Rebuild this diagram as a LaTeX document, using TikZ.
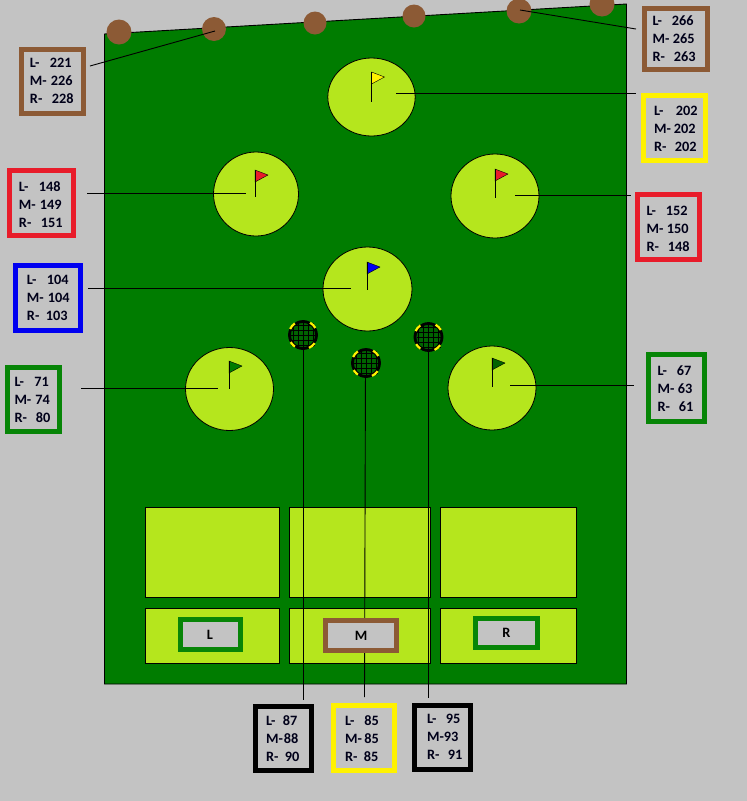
\documentclass[tikz,border=0pt]{standalone}
\usepackage{fontspec}
\setmainfont{Carlito}
\usetikzlibrary{calc,shapes.geometric}
\definecolor{bgray}{HTML}{C3C3C3}
\definecolor{field}{HTML}{007C00}
\definecolor{lime}{HTML}{B5E61D}
\definecolor{soil}{HTML}{8C5A35}
\definecolor{cred}{HTML}{E81C2A}
\definecolor{cyel}{HTML}{FFF200}
\definecolor{cblue}{HTML}{0000F0}
\definecolor{cgreen}{HTML}{078507}
\tikzset{
  cardbox/.style={draw=#1,fill=bgray,line width=5pt,inner sep=0pt,outer sep=0pt},
  cardtext/.style={anchor=west,inner sep=0pt,outer sep=0pt,align=left,font=\fontsize{14.3}{18}\selectfont\bfseries,text=black!90!blue},
  green disc/.style={draw=black,fill=lime,line width=0.8pt},
  pad/.style={draw=black,fill=lime,line width=0.8pt},
  tree/.style={fill=soil},
  pole/.style={draw=black,line width=0.8pt},
  flag/.style={draw=black,line width=0.4pt,fill=#1},
  leader/.style={draw=black,line width=0.9pt},
}
\newcommand{\cardat}[8]{% name,x0,y0,x1,y1,colour,textx,texty
  \node[cardbox=#6,minimum width={#4-#2-5},minimum height={#5-#3-5}] (#1) at ({(#2+#4)/2},{(#3+#5)/2}) {};
  \node[cardtext] (#1t) at (#7,#8) }
\newcommand{\rw}[3]{\makebox[#2pt][l]{#1}#3}
\newcommand{\hole}[9]{% name cx cy rx ry polex topy boty colour
  \node[green disc,ellipse,minimum width={2*#4},minimum height={2*#5},inner sep=0pt] (#1) at (#2,#3) {};
  \coordinate (#1a) at (#6,#7); \coordinate (#1b) at (#6,#8);
  \draw[flag=#9] (#6,#7) -- ++(13,5) -- (#6,#7+12) -- cycle;
  \draw[pole] (#1a) -- (#1b);}
\newcommand{\netat}[3]{% name cx cy
  \begin{scope}[shift={(#2,#3)}]
    \fill[field!80!black] (0,0) circle (14);
    \foreach \g in {-10,-5,0,5,10} {
      \draw[black,line width=0.7pt] (\g,-12) -- (\g,12);
      \draw[black,line width=0.7pt] (-12,\g) -- (12,\g);
    }
    \draw[black,line width=2.8pt] (0,0) circle (13.5);
    \draw[cyel,line width=2.2pt] (35:14.2) arc (35:65:14.2);
    \draw[cyel,line width=2.2pt] (125:14.2) arc (125:150:14.2);
    \draw[cyel,line width=2.2pt] (205:14.2) arc (205:235:14.2);
    \draw[cyel,line width=2.2pt] (300:14.2) arc (300:330:14.2);
  \end{scope}
  \coordinate (#1) at (#2,#3);}
\begin{document}
\begin{tikzpicture}[x=1pt,y=-1pt]
\useasboundingbox (0,0) rectangle (747,801);
\fill[bgray] (0,0) rectangle (747,801);
\clip (0,0) rectangle (747,801);
% field
\draw[fill=field,line width=0.9pt] (104.5,34) -- (626.5,4) -- (626.5,684) -- (104.5,684) -- cycle;
% trees
\fill[tree] (119,32) circle (12.5);
\fill[tree] (214,29) circle (12);
\fill[tree] (315,23) circle (11.5);
\fill[tree] (414,16) circle (11.5);
\fill[tree] (519,11) circle (12.5);
\fill[tree] (602,4) circle (12.5);
\coordinate (t2) at (215,31);
\coordinate (t5) at (520,10);
% holes
\hole{gtop}{371.5}{97}{43.7}{39}{371.5}{72}{102}{cyel}
\hole{gleft}{256}{194}{42.5}{42}{255}{170}{197}{cred}
\hole{gright}{495}{196}{44}{42}{495}{169}{198}{cred}
\hole{gmid}{367.5}{289}{44.5}{42}{367}{262}{290}{cblue}
\hole{glleft}{229.5}{389}{44}{41.5}{229}{361}{389}{field}
\hole{glright}{492}{388}{44}{42}{492}{358}{387}{field!80!black}
% tee pads
\draw[pad] (145.5,507.5) rectangle (279.5,597.5);
\draw[pad] (289.5,507.5) rectangle (430.5,597.5);
\draw[pad] (440.5,507.5) rectangle (576.5,597.5);
\draw[pad] (145.5,608.5) rectangle (279.5,663.5);
\draw[pad] (289.5,608.5) rectangle (430.5,663.5);
\draw[pad] (440.5,608.5) rectangle (576.5,663.5);
% leader ends
\coordinate (e202) at (396,93);
\coordinate (e148) at (246,193);
\coordinate (e152) at (515,195);
\coordinate (e104) at (351,288);
\coordinate (e71) at (218,388);
\coordinate (e67) at (510,385);
\coordinate (o221) at (90,66);
\coordinate (o266) at (636,29);
\coordinate (o202) at (636,93);
\coordinate (o148) at (87,193);
\coordinate (o152) at (631,195);
\coordinate (o104) at (88,288);
\coordinate (o71) at (81,388);
\coordinate (o67) at (634,385);
\coordinate (na) at (303,335);
\coordinate (nb) at (365.5,363);
\coordinate (nc) at (428.5,337);
\coordinate (oa) at (303,700);
\coordinate (ob) at (364.5,697);
\coordinate (oc) at (428.5,698);
\draw[leader] (o221) -- (t2);
\draw[leader] (t5) -- (o266);
\draw[leader] (e202) -- (o202);
\draw[leader] (o148) -- (e148);
\draw[leader] (e152) -- (o152);
\draw[leader] (o104) -- (e104);
\draw[leader] (o71) -- (e71);
\draw[leader] (e67) -- (o67);
\draw[leader] (na) -- (oa);
\draw[leader] (nb) -- (ob);
\draw[leader] (nc) -- (oc);
% nets
\netat{neta}{303}{335}
\netat{netb}{366}{363}
\netat{netc}{428.5}{337}
% tee markers
\node[cardbox=cgreen,minimum width=60pt,minimum height=30pt,font=\fontsize{14.3}{14}\selectfont\bfseries] (mL) at (210.5,634.5) {\hspace*{-1pt}L};
\node[cardbox=soil,minimum width=71pt,minimum height=30pt,font=\fontsize{14.3}{14}\selectfont\bfseries] (mM) at (361,635.5) {M};
\node[cardbox=cgreen,minimum width=62pt,minimum height=29pt,font=\fontsize{14.3}{14}\selectfont\bfseries] (mR) at (506.5,632.5) {R};
% cards
\cardat{c221}{19}{47}{86}{116}{soil}{30}{80.5} {\rw{L-}{20}{221}\\\rw{M-}{21}{226}\\\rw{R-}{22}{228}};
\cardat{c266}{642}{6}{710}{72}{soil}{652.5}{38.5} {\rw{L-}{19.5}{266}\\\rw{M-}{20.5}{265}\\\rw{R-}{21.5}{263}};
\cardat{c202}{641}{93}{708}{163}{cyel}{654}{128.5} {\rw{L-}{22}{202}\\\rw{M-}{20}{202}\\\rw{R-}{21}{202}};
\cardat{c148}{7}{168}{76}{238}{cred}{19}{204.5} {\rw{L-}{20}{148}\\\rw{M-}{21}{149}\\\rw{R-}{22}{151}};
\cardat{c152}{635}{192}{702}{262}{cred}{646.5}{228.5} {\rw{L-}{19.5}{152}\\\rw{M-}{20.5}{150}\\\rw{R-}{21.5}{148}};
\cardat{c104}{13}{263}{83}{333}{cblue}{27}{297.5} {\rw{L-}{20}{104}\\\rw{M-}{21}{104}\\\rw{R-}{19}{103}};
\cardat{c71}{5}{365}{62}{434}{cgreen}{14.5}{400} {\rw{L-}{20}{71}\\\rw{M-}{21}{74}\\\rw{R-}{21.5}{80}};
\cardat{c67}{646}{352}{707}{424}{cgreen}{657.5}{388.5} {\rw{L-}{19.5}{67}\\\rw{M-}{20.5}{63}\\\rw{R-}{21.5}{61}};
\cardat{c87}{253}{704}{314}{773}{black}{266}{738.5} {\rw{L-}{17}{87}\\\rw{M-}{18}{88}\\\rw{R-}{19}{90}};
\cardat{c85}{331}{703}{397}{773}{cyel}{345}{738.5} {\rw{L-}{19.5}{85}\\\rw{M-}{19.5}{85}\\\rw{R-}{19}{85}};
\cardat{c95}{412}{703}{473}{772}{black}{427}{736.5} {\rw{L-}{19}{95}\\\rw{M-}{17}{93}\\\rw{R-}{21}{91}};
\end{tikzpicture}
\end{document}
